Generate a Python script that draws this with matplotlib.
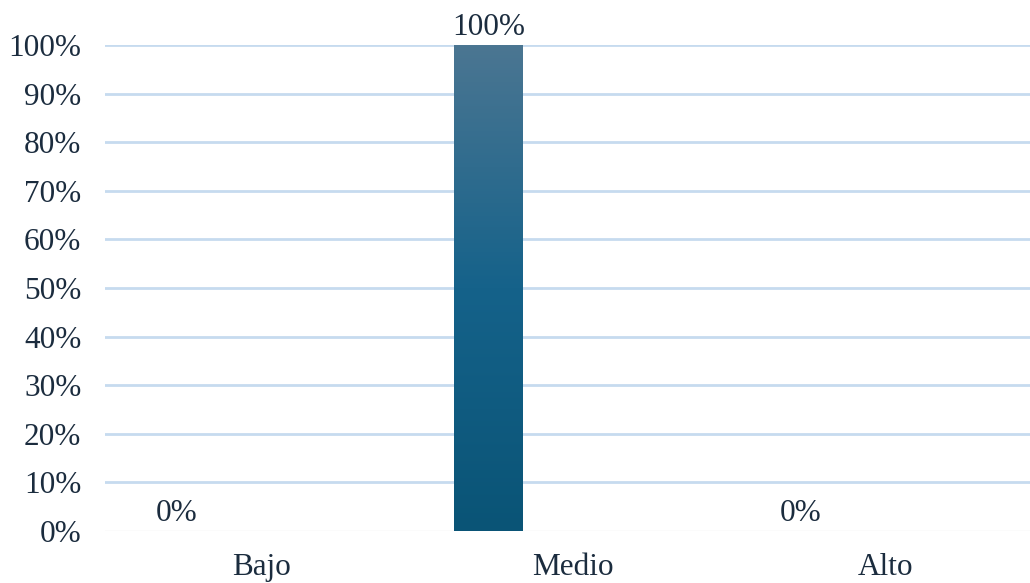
import numpy as np
import matplotlib.pyplot as plt
from matplotlib.colors import LinearSegmentedColormap

plt.rcParams['font.family'] = ['Liberation Serif', 'DejaVu Serif']

categorias = ['Bajo', 'Medio', 'Alto']
valores = [0.0, 1.0, 0.0]
etiquetas_y = ['0%', '10%', '20%', '30%', '40%', '50%', '60%', '70%', '80%', '90%', '100%']

color_texto = '#1b2c3e'
fs = 22.5
fig = plt.figure(figsize=(10.30, 5.83), dpi=100)
ax = fig.add_axes([0.102, 0.0892, 0.9087, 0.8336])

x = np.arange(len(categorias))
desplaz = -0.27  # la serie va a la izquierda del centro de la categoria
ancho = 0.22
barras = ax.bar(x + desplaz, valores, width=ancho, color='none', zorder=3)

# degradado vertical de la barra
cmap = LinearSegmentedColormap.from_list('grad', ['#0a5476', '#15628a', '#4b7692'])
grad = np.linspace(0, 1, 256).reshape(-1, 1)
for b in barras:
    h = b.get_height()
    if h <= 0:
        continue
    x0 = b.get_x()
    im = ax.imshow(grad, cmap=cmap, origin='lower', aspect='auto',
                   extent=[x0, x0 + b.get_width(), 0, h], zorder=3)
    im.set_clip_path(b)

for xi, v in zip(x, valores):
    ax.annotate(f'{v*100:.0f}%', (xi + desplaz, v), xytext=(0, 2),
                textcoords='offset points', ha='center', va='bottom',
                fontsize=fs, color=color_texto)

ax.set_xlim(-0.5, 2.5)
ax.set_ylim(0, 1)
ax.set_yticks(np.linspace(0, 1, 11))
ax.set_yticklabels(etiquetas_y, fontsize=fs, color=color_texto)
ax.set_xticks(x)
ax.set_xticklabels(categorias, fontsize=fs, color=color_texto)
ax.tick_params(length=0)
ax.tick_params(axis='y', pad=17)
ax.tick_params(axis='x', pad=16)

for yv in np.linspace(0.1, 1, 10):
    ax.axhline(yv, color='#c6dbef', lw=2, zorder=1)
ax.axhline(0, color='#eeeeee', lw=1, zorder=1)

for s in ax.spines.values():
    s.set_visible(False)

fig.savefig('out.png', dpi=100)
